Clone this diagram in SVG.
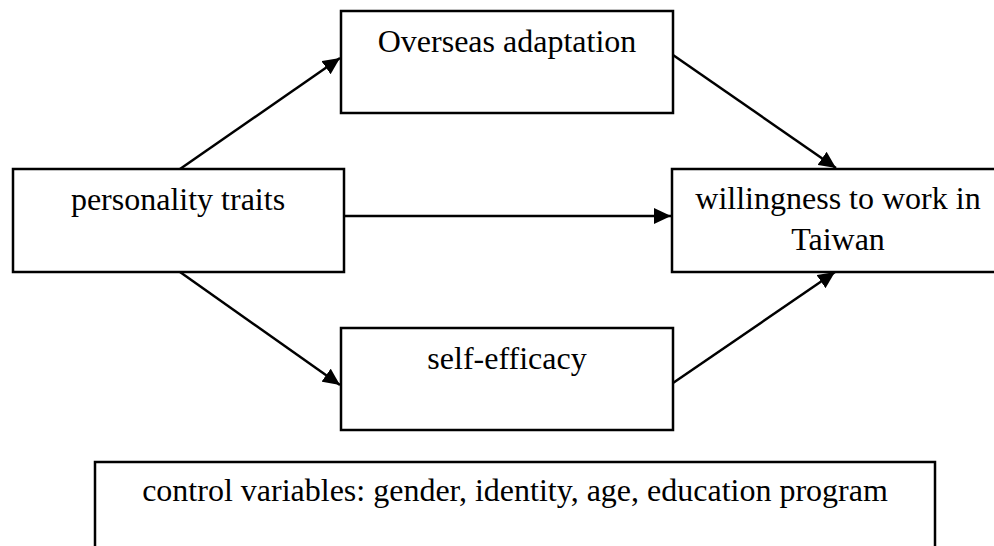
<svg xmlns="http://www.w3.org/2000/svg" width="994" height="546" viewBox="0 0 994 546">
<style>
.box{fill:#fff;stroke:#000;stroke-width:2.5}
.lbl{font-family:"Liberation Serif","Times New Roman",serif;font-size:32px;fill:#000;text-anchor:middle}
.edge{stroke:#000;stroke-width:2.5;fill:none;marker-end:url(#ah)}
</style>
<defs>
<marker id="ah" markerUnits="userSpaceOnUse" markerWidth="18" markerHeight="16" refX="17" refY="8" orient="auto">
<path d="M0,0 L17,8 L0,16 z" fill="#000"/>
</marker>
</defs>
<rect width="994" height="546" fill="#fff"/>
<g id="connectors">
<line class="edge" x1="180" y1="169" x2="340" y2="58"/>
<line class="edge" x1="673" y1="55" x2="836" y2="168"/>
<line class="edge" x1="344" y1="216" x2="671" y2="216"/>
<line class="edge" x1="180" y1="272" x2="340" y2="385"/>
<line class="edge" x1="673" y1="383" x2="835" y2="272"/>
</g>
<g id="node-overseas">
<rect class="box" x="341" y="11" width="332" height="102"/>
<text class="lbl" x="507" y="52">Overseas adaptation</text>
</g>
<g id="node-personality">
<rect class="box" x="13" y="169" width="331" height="103"/>
<text class="lbl" x="178" y="210">personality traits</text>
</g>
<g id="node-willingness">
<rect class="box" x="672" y="169" width="332" height="103"/>
<text class="lbl" x="838" y="209">willingness to work in</text>
<text class="lbl" x="838" y="250">Taiwan</text>
</g>
<g id="node-selfefficacy">
<rect class="box" x="341" y="328" width="332" height="102"/>
<text class="lbl" x="507" y="369">self-efficacy</text>
</g>
<g id="node-control">
<rect class="box" x="95" y="462" width="840" height="100"/>
<text class="lbl" x="515" y="501">control variables: gender, identity, age, education program</text>
</g>
</svg>
